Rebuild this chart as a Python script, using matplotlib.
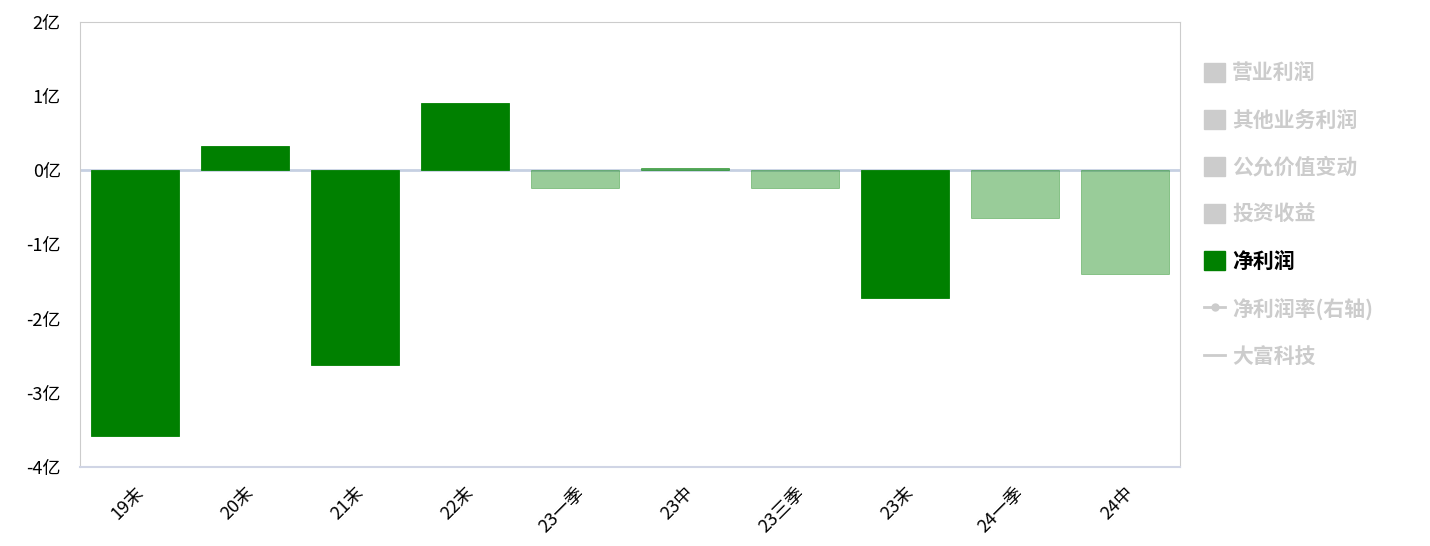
import matplotlib.pyplot as plt
from matplotlib.patches import Patch
from matplotlib.lines import Line2D

plt.rcParams['font.family'] = ['Noto Sans CJK SC', 'DejaVu Sans']
plt.rcParams['axes.unicode_minus'] = False

# data (亿元)
periods = ['19末', '20末', '21末', '22末', '23一季', '23中', '23三季', '23末', '24一季', '24中']
net_profit = [-3.58, 0.32, -2.63, 0.91, -0.235, 0.025, -0.235, -1.72, -0.64, -1.40]
bar_alpha = [1, 1, 1, 1, 0.4, 0.6, 0.4, 1, 0.4, 0.4]

legend_labels = ['营业利润', '其他业务利润', '公允价值变动', '投资收益', '净利润', '净利润率(右轴)', '大富科技']
y_ticks = [2, 1, 0, -1, -2, -3, -4]

fig = plt.figure(figsize=(14.3, 5.46), dpi=100)
ax = fig.add_axes([0.056, 0.145, 0.769, 0.815])

ax.axhline(0, color='#c6d0e2', linewidth=2, zorder=2)

x = list(range(len(periods)))
for i in x:
    ax.bar(i, net_profit[i], width=0.8, color='#008000', alpha=bar_alpha[i],
           edgecolor='#008000', linewidth=0.6, zorder=3)

ax.set_xlim(-0.5, len(periods) - 0.5)
ax.set_ylim(-4, 2)
ax.set_yticks(y_ticks)
ax.set_yticklabels([f'{v}亿' for v in y_ticks], fontsize=13)
ax.set_xticks(x)
ax.set_xticklabels(periods, rotation=45, ha='right', rotation_mode='anchor', fontsize=13)
ax.tick_params(axis='y', length=0, pad=14)
ax.tick_params(axis='x', length=0, pad=12)

for s in ['left', 'top', 'right']:
    ax.spines[s].set_color('#cccccc')
ax.spines['bottom'].set_color('#d0d5e5')
ax.spines['bottom'].set_linewidth(1.5)

gray = '#cccccc'
handles = [
    Patch(facecolor=gray, edgecolor=gray),
    Patch(facecolor=gray, edgecolor=gray),
    Patch(facecolor=gray, edgecolor=gray),
    Patch(facecolor=gray, edgecolor=gray),
    Patch(facecolor='#008000', edgecolor='#008000'),
    Line2D([], [], color=gray, linewidth=2, marker='o', markersize=5),
    Line2D([], [], color=gray, linewidth=2),
]
colors = [gray, gray, gray, gray, 'black', gray, gray]
fig.legend(handles, legend_labels, loc='upper left', bbox_to_anchor=(0.829, 0.92),
           frameon=False, prop={'size': 15, 'weight': 'bold'}, labelcolor=colors,
           handlelength=1.0, handleheight=1.0, handletextpad=0.35, labelspacing=1.25)

fig.savefig('out.png', dpi=100)
